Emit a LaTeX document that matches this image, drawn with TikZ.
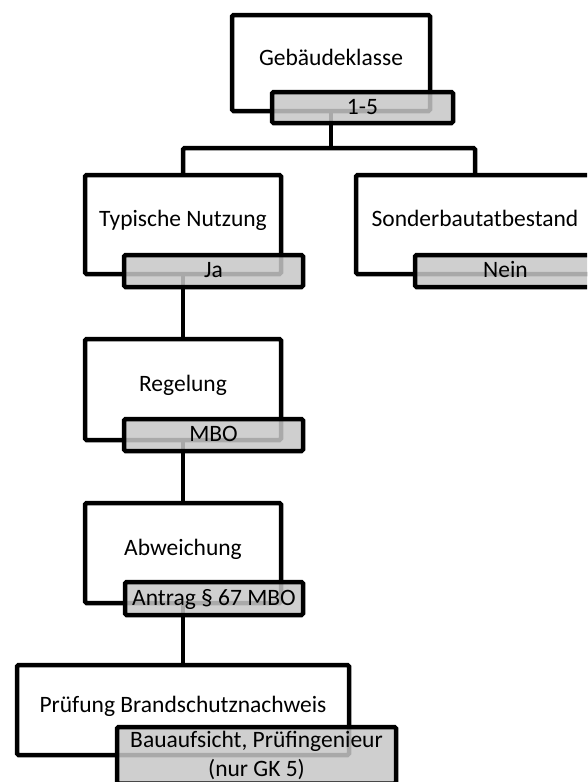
\documentclass[tikz,border=0pt]{standalone}
\usepackage{fontspec}
\setmainfont{Carlito}
\usetikzlibrary{calc}

\begin{document}
\begin{tikzpicture}[x=1pt, y=-1pt,
    every node/.style={font=\fontsize{23.5}{29}\selectfont, outer sep=0pt},
    hauptbox/.style={draw, line width=4.5pt, rounded corners=1.5pt, fill=white, text height=17pt, text depth=13pt},
    grau/.style={draw, line width=4.5pt, rounded corners=1.5pt, fill=black!22, fill opacity=0.85, text opacity=1, inner sep=0pt},
    antwort/.style={grau, text height=16pt, text depth=3pt},
    linie/.style={line width=4.5pt, rounded corners=1.5pt}]
        \useasboundingbox (0,0) rectangle (587,782);
        \clip (0,0) rectangle (587,782);
        \node[hauptbox, minimum width=198pt, minimum height=96pt] (gk) at (331,63) {Gebäudeklasse};
        \node[hauptbox, minimum width=196pt, minimum height=99pt] (tn) at (183,224.5) {Typische Nutzung};
        \node[hauptbox, minimum width=238pt, minimum height=99pt] (son) at (475,224.5) {Sonderbautatbestand};
        \node[hauptbox, minimum width=196pt, minimum height=101pt] (reg) at (183,389.5) {Regelung};
        \node[hauptbox, minimum width=196pt, minimum height=100pt] (abw) at (183,553) {Abweichung};
        \node[hauptbox, minimum width=332pt, minimum height=90pt] (pb) at (183,710) {Prüfung Brandschutznachweis};
        \coordinate (split) at (331,148);
        \draw[linie] (gk.south) -- (split);
        \draw[linie] (tn.north) |- (split) -| (son.north);
        \draw[linie] (tn.south) -- (reg.north);
        \draw[linie] (reg.south) -- (abw.north);
        \draw[linie] (abw.south) -- (pb.north);
        \node[antwort, minimum width=181pt, minimum height=31pt] (gk-a) at (362.5,107.5) {1-5};
        \node[antwort, minimum width=179pt, minimum height=32pt] (tn-a) at (213.5,271) {Ja};
        \node[antwort, minimum width=181pt, minimum height=32pt] (son-a) at (505.5,271) {Nein};
        \node[antwort, minimum width=179pt, minimum height=32pt] (reg-a) at (213.5,435) {MBO};
        \node[antwort, minimum width=178pt, minimum height=33pt] (abw-a) at (214,598.5) {Antrag § 67 MBO};
        \node[grau, anchor=north, minimum width=279pt, align=center, inner ysep=4pt] (pb-a) at (256.5,727) {Bauaufsicht, Prüfingenieur\\(nur GK 5)};
\end{tikzpicture}
\end{document}
